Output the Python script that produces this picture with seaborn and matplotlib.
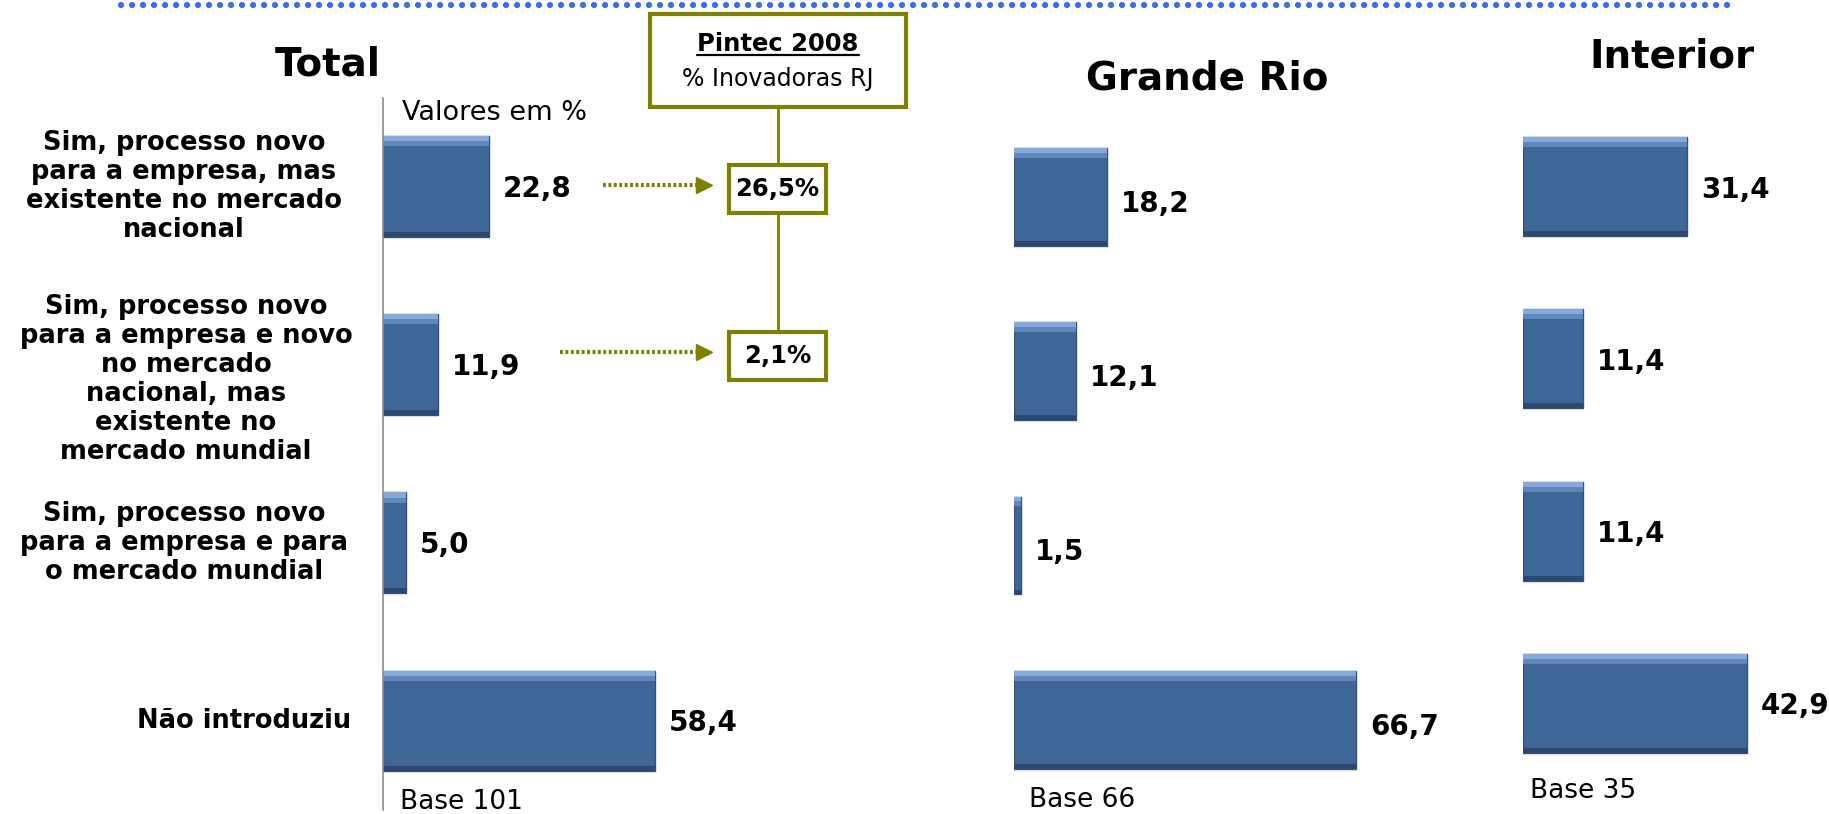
import matplotlib
matplotlib.use("Agg")
import matplotlib.pyplot as plt
from matplotlib.lines import Line2D
from matplotlib.patches import Rectangle
from matplotlib.transforms import blended_transform_factory
import pandas as pd
import seaborn as sns

# data
categorias = ["Sim, processo novo\npara a empresa, mas\nexistente no mercado\nnacional",
              "Sim, processo novo\npara a empresa e novo\nno mercado\nnacional, mas\nexistente no\nmercado mundial",
              "Sim, processo novo\npara a empresa e para\no mercado mundial",
              "Não introduziu"]
regioes = ["Total", "Grande Rio", "Interior"]
total = [22.8, 11.9, 5.0, 58.4]
grande_rio = [18.2, 12.1, 1.5, 66.7]
interior = [31.4, 11.4, 11.4, 42.9]
bases = ["Base 101", "Base 66", "Base 35"]
pintec_valores = [26.5, 2.1]

W, H = 1829, 814
BAR = "#3e6798"
EDGE = "#30527d"
OLIVE = "#808000"

sns.set_style("white")
plt.rcParams["font.family"] = ["DejaVu Sans"]
plt.rcParams["text.color"] = "black"

fig = plt.figure(figsize=(W / 100, H / 100), dpi=100)


def fx(px):
    return px / W


def fy(py):
    return 1 - py / H


# left px, px per unit, top px, bottom px, bar width, title xy, base xy, label dy
layout = [
    (382.6, 4.666, 97.5, 810.0, 0.565, (328, 64), (400, 802), -2),
    (1013.7, 5.133, 110.0, 806.8, 0.562, (1207, 79), (1029, 800), -7),
    (1523.4, 5.214, 100.5, 789.5, 0.575, (1672, 56), (1530, 791), -3),
]
series = [total, grande_rio, interior]

axes = []
for nome, valores, base, (left, ppu, top, bottom, bw, tpos, bpos, dy) in zip(
        regioes, series, bases, layout):
    ax = fig.add_axes([fx(left), fy(bottom), 100 * ppu / W, (bottom - top) / H])
    df = pd.DataFrame({"categoria": categorias, "valor": valores})
    sns.barplot(data=df, x="valor", y="categoria", orient="h", color=BAR,
                saturation=1, width=bw, edgecolor=EDGE, linewidth=1, ax=ax)
    ax.set_xlim(0, 100)
    ax.set_ylim(3.5, -0.5)
    ax.set_xticks([])
    ax.set_yticks([])
    ax.set_xlabel("")
    ax.set_ylabel("")
    ax.patch.set_alpha(0)
    for s in ["top", "right", "bottom", "left"]:
        ax.spines[s].set_visible(False)

    bars = list(ax.patches)
    for p, v in zip(bars, valores):
        ax.annotate(f"{v:.1f}".replace(".", ","),
                    xy=(p.get_width(), p.get_y() + p.get_height() / 2),
                    xytext=(10, dy * 0.72), textcoords="offset points",
                    ha="left", va="center", fontsize=20, fontweight="bold")
        # bevel look: light strip on top, dark strip at the bottom and right
        x0, y0, w, h = p.get_x(), p.get_y(), p.get_width(), p.get_height()
        ax.add_patch(Rectangle((x0, y0), w, h * 0.05, color="#86a9da", lw=0))
        ax.add_patch(Rectangle((x0, y0 + h * 0.05), w, h * 0.05, color="#5f86bd", lw=0))
        ax.add_patch(Rectangle((x0, y0 + h * 0.95), w, h * 0.05, color="#2c4870", lw=0))

    fig.text(fx(tpos[0]), fy(tpos[1]), nome, ha="center", va="center",
             fontsize=28, fontweight="bold")
    fig.text(fx(bpos[0]), fy(bpos[1]), base, ha="left", va="center", fontsize=19)
    axes.append(ax)

ax_total = axes[0]
ax_total.spines["left"].set_visible(True)
ax_total.spines["left"].set_color("#8c8c8c")
ax_total.spines["left"].set_linewidth(1.2)

fig.text(fx(402), fy(113), "Valores em %", ha="left", va="center", fontsize=19.5)

# category labels to the left of the Total panel
trans = blended_transform_factory(fig.transFigure, ax_total.transData)
label_y = [0, 1.085, 2, 3]
label_x = [184, 186, 184, 244]
for txt, yy, xx in zip(categorias, label_y, label_x):
    ax_total.text(fx(xx), yy, txt, transform=trans, ha="center", va="center",
                  multialignment="center", fontsize=18.5, fontweight="bold",
                  linespacing=1.15, clip_on=False)

# top dotted rule
fig.add_artist(Line2D([fx(121), fx(1738)], [fy(5), fy(5)], color="#3a6cf0",
                      lw=4.5, linestyle=(0, (0.01, 1.75)), dash_capstyle="round"))

# Pintec 2008 box
fig.add_artist(Line2D([fx(778), fx(778)], [fy(107), fy(334)], color=OLIVE, lw=2))
fig.add_artist(Rectangle((fx(650), fy(107)), (906 - 650) / W, (107 - 14) / H,
                         transform=fig.transFigure, facecolor="white",
                         edgecolor=OLIVE, lw=3))
t_pin = fig.text(fx(778), fy(44), "Pintec 2008", ha="center", va="center",
                 fontsize=17.5, fontweight="bold")
fig.text(fx(778), fy(79), "% Inovadoras RJ", ha="center", va="center", fontsize=17)
fig.canvas.draw()
bb = t_pin.get_window_extent()
fig.add_artist(Line2D([bb.x0 / W, bb.x1 / W], [(bb.y0 + 1) / H, (bb.y0 + 1) / H],
                      color="black", lw=1.6))

# Pintec values with dotted arrows
box_y = [189, 356]
arrow_x0 = [603, 560]
for v, yy, ax0 in zip(pintec_valores, box_y, arrow_x0):
    fig.add_artist(Rectangle((fx(729), fy(yy + 24)), 97 / W, 48 / H,
                             transform=fig.transFigure, facecolor="white",
                             edgecolor=OLIVE, lw=3, zorder=3))
    fig.text(fx(777.5), fy(yy), f"{v:.1f}".replace(".", ",") + "%",
             ha="center", va="center", fontsize=17.5, fontweight="bold", zorder=4)
    fig.add_artist(Line2D([fx(ax0), fx(702)], [fy(yy - 4), fy(yy - 4)],
                          color=OLIVE, lw=3, linestyle=(0, (0.7, 0.6))))
    fig.add_artist(Line2D([fx(704)], [fy(yy - 4)], color=OLIVE, marker=">",
                          markersize=12, lw=0))

fig.savefig("out.png", dpi=100)
